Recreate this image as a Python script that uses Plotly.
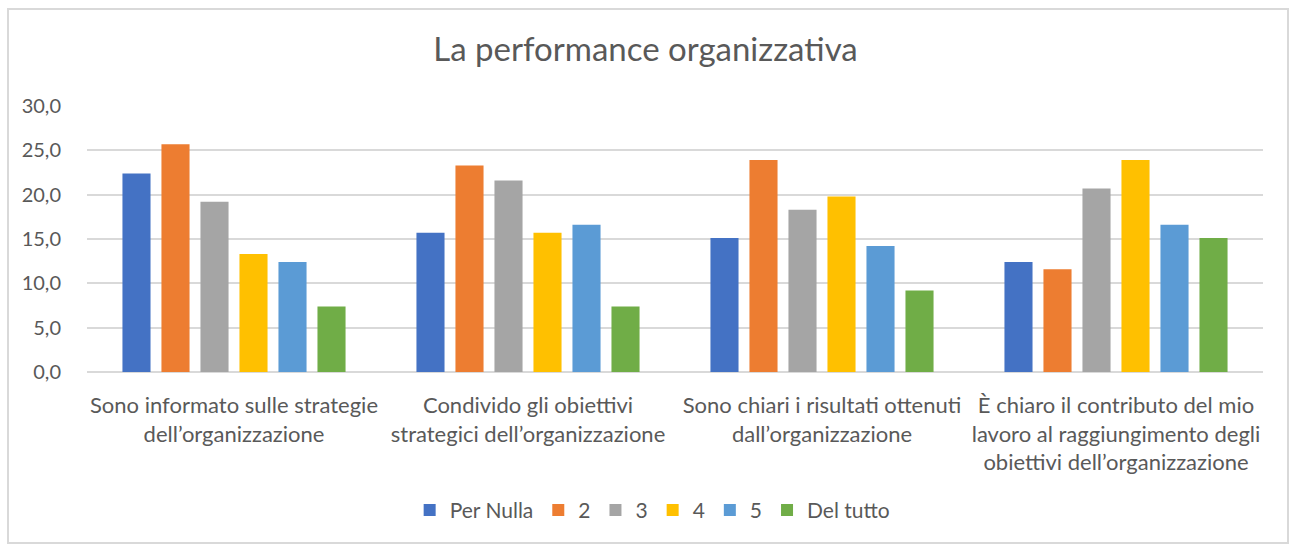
import plotly.graph_objects as go

# Survey answers: share of respondents (%) per statement and rating
categories = [
    "Sono informato sulle strategie<br>dell\u2019organizzazione",
    "Condivido gli obiettivi<br>strategici dell\u2019organizzazione",
    "Sono chiari i risultati ottenuti<br>dall\u2019organizzazione",
    "\u00c8 chiaro il contributo del mio<br>lavoro al raggiungimento degli<br>obiettivi dell\u2019organizzazione",
]
series_names = ["Per Nulla", "2", "3", "4", "5", "Del tutto"]
per_nulla = [22.4, 15.7, 15.1, 12.4]
val_2 = [25.7, 23.3, 23.9, 11.6]
val_3 = [19.2, 21.6, 18.3, 20.7]
val_4 = [13.3, 15.7, 19.8, 23.9]
val_5 = [12.4, 16.6, 14.2, 16.6]
del_tutto = [7.4, 7.4, 9.2, 15.1]
y_ticks = [0, 5, 10, 15, 20, 25, 30]

series_values = [per_nulla, val_2, val_3, val_4, val_5, del_tutto]
colors = ["#4472C4", "#ED7D31", "#A5A5A5", "#FFC000", "#5B9BD5", "#70AD47"]

W, H = 1291, 545
ML, MR, MT, MB = 87, 28, 106, 173
FONT = "Lato"
TXT = "#595959"

fig = go.Figure()
for name, vals, col in zip(series_names, series_values, colors):
    fig.add_trace(go.Bar(name=name, x=categories, y=vals, marker_color=col,
                         marker_line_width=0))

pw, ph = W - ML - MR, H - MT - MB
# outer chart frame drawn in paper units relative to the plot area
fx0, fx1 = (8 - ML) / pw, (1288 - ML) / pw
fy0, fy1 = -(543 - (H - MB)) / ph, 1 + (MT - 9) / ph

fig.update_layout(
    width=W, height=H,
    margin=dict(l=ML, r=MR, t=MT, b=MB),
    paper_bgcolor="white", plot_bgcolor="white",
    separators=",.",
    barmode="group", bargap=0.204, bargroupgap=0.28,
    title=dict(text="La performance organizzativa", x=0.5, xref="container",
               y=0.91, yref="container", yanchor="middle",
               font=dict(family=FONT, size=33, color=TXT)),
    font=dict(family=FONT, color=TXT),
    xaxis=dict(showgrid=False, showline=False, ticks="", ticklabelstandoff=18,
               tickfont=dict(family=FONT, size=22, color=TXT)),
    yaxis=dict(range=[0, 30], tickvals=y_ticks, tickformat=".1f",
               showgrid=True, gridcolor="#D9D9D9", gridwidth=1.5,
               zeroline=True, zerolinecolor="#D9D9D9", zerolinewidth=1.5,
               showline=False, ticks="", ticklabelstandoff=25,
               tickfont=dict(family=FONT, size=20, color=TXT)),
    legend=dict(orientation="h", x=0.481, xanchor="center", y=-0.52,
                yanchor="middle", font=dict(family=FONT, size=21, color=TXT),
                itemwidth=30, traceorder="normal"),
    showlegend=True,
    shapes=[dict(type="rect", xref="paper", yref="paper",
                 x0=fx0, x1=fx1, y0=fy0, y1=fy1,
                 line=dict(color="#D9D9D9", width=2), layer="below")],
)

fig.write_html("out.html")
